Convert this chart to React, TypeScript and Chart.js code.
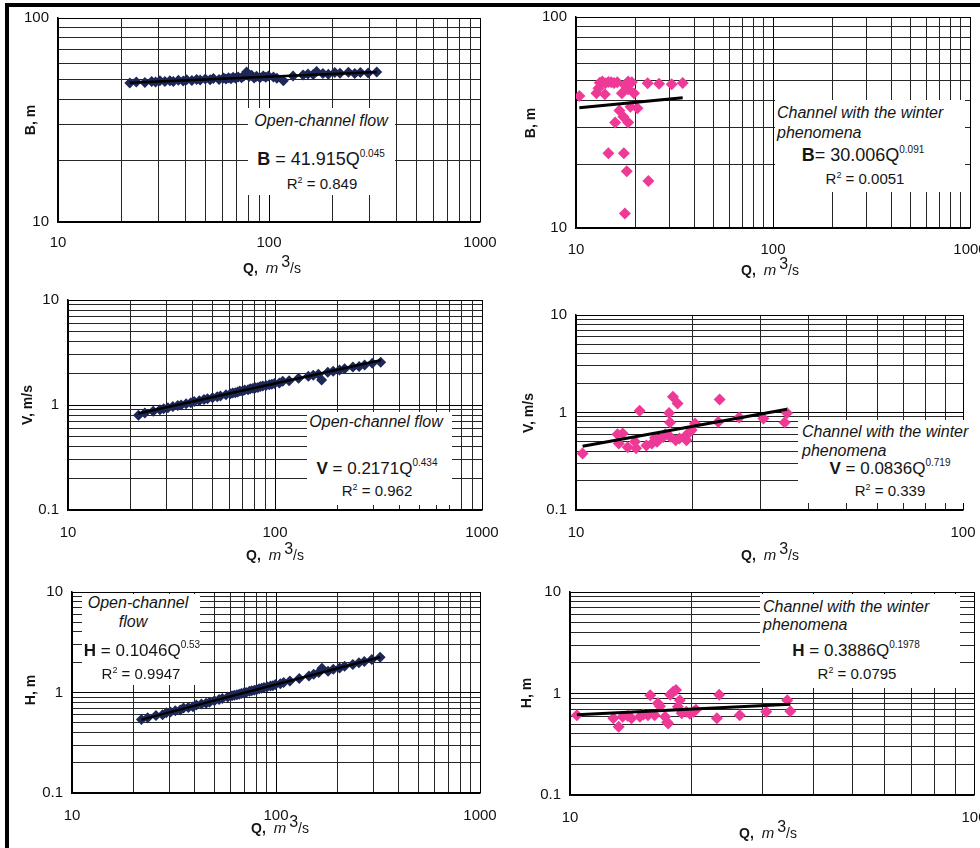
import React, { useEffect, useRef } from 'react';
import { Chart, registerables } from 'chart.js';

Chart.register(...registerables);

const FONT = "'Liberation Sans', Arial, Helvetica, sans-serif";

// ---------- Open-channel flow (left column) ----------
const Q_OPEN = [
  21.9, 23.5, 25.8, 27.8, 29.0, 30.4, 32.1, 33.9, 35.2, 37.2,
  39.2, 40.7, 43.1, 45.4, 47.2, 49.9, 52.6, 54.5, 58.0, 60.9,
  62.5, 64.3, 66.0, 67.6, 69.5, 71.4, 74.1, 76.0, 78.3, 80.5,
  82.7, 85.0, 87.3, 90.5, 93.9, 96.5, 99.4, 105, 109, 117,
  130, 145, 153, 162, 168, 180, 191, 205, 217, 238,
  255, 271, 295, 324,
];
const B_OPEN = [
  48.0, 48.6, 48.3, 48.9, 48.5, 49.2, 48.8, 49.3, 48.9, 49.5,
  49.1, 49.8, 49.4, 50.0, 49.6, 50.2, 49.8, 50.5, 50.0, 50.8,
  50.2, 51.0, 50.4, 51.2, 50.6, 51.4, 50.9, 52.0, 54.4, 51.6,
  52.4, 50.8, 51.8, 51.0, 52.0, 51.2, 51.9, 51.4, 50.6, 49.2,
  51.9, 52.6, 53.2, 52.8, 54.6, 53.4, 53.0, 54.0, 53.6, 54.2,
  53.5, 54.0, 53.8, 54.3,
];
const V_OPEN = [
  0.80, 0.84, 0.87, 0.90, 0.92, 0.94, 0.97, 0.99, 1.00, 1.03,
  1.05, 1.08, 1.10, 1.13, 1.15, 1.17, 1.20, 1.22, 1.25, 1.28,
  1.30, 1.31, 1.33, 1.36, 1.35, 1.39, 1.40, 1.43, 1.44, 1.46,
  1.47, 1.50, 1.52, 1.53, 1.56, 1.58, 1.60, 1.62, 1.68, 1.70,
  1.80, 1.88, 1.92, 1.96, 1.73, 2.05, 2.10, 2.15, 2.22, 2.30,
  2.32, 2.40, 2.50, 2.55,
];
const H_OPEN = [
  0.54, 0.56, 0.59, 0.60, 0.63, 0.64, 0.66, 0.67, 0.70, 0.71,
  0.72, 0.75, 0.77, 0.78, 0.80, 0.83, 0.85, 0.87, 0.90, 0.93,
  0.94, 0.95, 0.96, 0.98, 0.99, 1.00, 1.03, 1.04, 1.05, 1.07,
  1.09, 1.10, 1.12, 1.14, 1.16, 1.17, 1.20, 1.22, 1.26, 1.30,
  1.38, 1.46, 1.52, 1.58, 1.74, 1.63, 1.70, 1.75, 1.82, 1.90,
  1.98, 2.03, 2.13, 2.24,
];

// ---------- Channel with the winter phenomena (right column) ----------
const Q_WINTER_B = [
  10.4, 13.2, 13.6, 14.1, 14.6, 15.1, 15.6, 16.2, 17.7, 18.4, 19.2,
  23.1, 26.4, 30.6, 34.8, 13.0, 12.7, 14.0, 17.1, 18.4, 19.7,
  18.9, 20.5, 16.6, 15.8, 17.4, 18.4, 14.6, 17.5, 18.1, 23.3, 17.7,
];
const B_WINTER = [
  42.2, 48.8, 49.5, 48.5, 49.2, 49.0, 48.6, 49.0, 47.5, 49.5, 49.0,
  48.5, 48.3, 48.0, 48.6, 45.9, 43.5, 43.0, 43.5, 45.4, 43.5,
  37.6, 36.9, 36.0, 31.6, 33.7, 31.6, 22.6, 22.6, 18.6, 16.7, 11.7,
];
const Q_WINTER_V = [
  10.4, 12.8, 12.9, 13.2, 13.6, 14.2, 14.3, 14.6, 15.2, 15.7,
  16.2, 16.8, 17.4, 17.5, 17.8, 18.3, 17.5, 18.1, 18.5, 19.1,
  19.3, 19.7, 20.3, 23.3, 23.5, 26.4, 30.5, 34.6, 35.1, 16.0, 17.0, 19.9,
];
const V_WINTER = [
  0.38, 0.60, 0.48, 0.61, 0.44, 0.50, 0.43, 1.04, 0.46, 0.48,
  0.50, 0.56, 0.99, 0.79, 1.45, 1.24, 0.565, 0.52, 0.54, 0.565,
  0.52, 0.635, 0.77, 0.80, 1.36, 0.89, 0.87, 0.79, 0.99, 0.55, 0.60, 0.66,
];
const Q_WINTER_H = [
  10.4, 12.8, 13.2, 13.5, 14.2, 14.9, 15.6, 15.8, 16.5, 16.2,
  17.2, 17.4, 17.7, 18.0, 18.3, 18.7, 18.5, 18.9, 19.4, 20.2,
  20.5, 23.4, 23.1, 26.3, 30.6, 34.5, 35.1, 17.5, 16.7, 13.9, 15.2, 19.8,
];
const H_WINTER = [
  0.61, 0.57, 0.47, 0.59, 0.57, 0.59, 0.61, 0.96, 0.80, 0.61,
  0.59, 0.52, 0.97, 1.04, 1.08, 0.86, 0.74, 0.64, 0.66, 0.66,
  0.69, 0.97, 0.57, 0.61, 0.66, 0.86, 0.67, 0.505, 0.75, 0.60, 0.62, 0.63,
];

// Power-law trend lines shown on the chart (y = a * Q^b)
const TREND_B_OPEN = { a: 41.915, b: 0.045 };
const TREND_V_OPEN = { a: 0.2171, b: 0.434 };
const TREND_H_OPEN = { a: 0.1046, b: 0.53 };
const TREND_B_WINTER = { a: 30.006, b: 0.091 };
const TREND_V_WINTER = { a: 0.0836, b: 0.719 };
const TREND_H_WINTER = { a: 0.3886, b: 0.1978 };

// Axis decades (labelled ticks) and log minor multipliers
const Q_DECADES_WIDE = [10, 100, 1000];
const Q_DECADES_NARROW = [10, 100];
const B_DECADES = [10, 100];
const VH_DECADES = [0.1, 1, 10];
const MINOR_MULTIPLIERS = [1, 2, 3, 4, 5, 6, 7, 8, 9];

const OPEN_COLOR = '#1d2858';
const WINTER_COLOR = '#ee3a96';

function logTicks(decades: number[]) {
  const out: number[] = [];
  for (let i = 0; i < decades.length - 1; i++) {
    for (const m of MINOR_MULTIPLIERS) out.push(Number((decades[i] * m).toPrecision(6)));
  }
  out.push(decades[decades.length - 1]);
  return out;
}
const isDecade = (decs: number[], v: number) => decs.some((d) => Math.abs(v / d - 1) < 1e-6);

type PanelProps = {
  plot: { l: number; t: number; r: number; b: number };
  canvasRight: number;
  xDecades: number[];
  yDecades: number[];
  q: number[];
  y: number[];
  trend: { a: number; b: number };
  color: string;
  radius: number;
  lineWidth: number;
  xPad: number;
};

function Panel(p: PanelProps) {
  const ref = useRef<HTMLCanvasElement | null>(null);
  const YW = 52;
  const PT = 12;
  const XH = 34;
  const left = p.plot.l - YW;
  const top = p.plot.t - PT;
  const width = p.canvasRight - left;
  const height = p.plot.b - top + XH;
  const PR = p.canvasRight - p.plot.r;

  useEffect(() => {
    const xt = logTicks(p.xDecades);
    const yt = logTicks(p.yDecades);
    const qmin = Math.min(...p.q);
    const qmax = Math.max(...p.q);
    const tickFont = { family: FONT, size: 15 };
    const gridColor = (decs: number[]) => (ctx: any) =>
      ctx.tick && isDecade(decs, ctx.tick.value) ? '#000' : '#262626';
    const chart = new Chart(ref.current as HTMLCanvasElement, {
      type: 'scatter',
      data: {
        datasets: [
          {
            data: [
              { x: qmin, y: p.trend.a * Math.pow(qmin, p.trend.b) },
              { x: qmax, y: p.trend.a * Math.pow(qmax, p.trend.b) },
            ],
            showLine: true,
            borderColor: '#000',
            borderWidth: p.lineWidth,
            pointRadius: 0,
            fill: false,
          } as any,
          {
            data: p.q.map((x, i) => ({ x, y: p.y[i] })),
            pointStyle: 'rectRot',
            pointRadius: p.radius,
            backgroundColor: p.color,
            borderColor: p.color,
            borderWidth: 0,
          },
        ],
      },
      options: {
        responsive: false,
        animation: false,
        events: [],
        layout: { padding: { left: 0, top: PT, right: PR, bottom: 0 } },
        plugins: { legend: { display: false }, tooltip: { enabled: false } },
        scales: {
          x: {
            type: 'logarithmic',
            min: xt[0],
            max: xt[xt.length - 1],
            afterBuildTicks: (s: any) => {
              s.ticks = xt.map((v) => ({ value: v }));
            },
            afterFit: (s: any) => {
              s.height = XH;
              s.paddingLeft = 0;
              s.paddingRight = 0;
            },
            ticks: {
              autoSkip: false,
              maxRotation: 0,
              minRotation: 0,
              padding: p.xPad,
              font: tickFont,
              color: '#111',
              callback: (v: any) => (isDecade(p.xDecades, Number(v)) ? String(v) : ''),
            },
            grid: { color: gridColor(p.xDecades), lineWidth: 1, drawTicks: false },
            border: { color: '#000', width: 1.5 },
          },
          y: {
            type: 'logarithmic',
            min: yt[0],
            max: yt[yt.length - 1],
            afterBuildTicks: (s: any) => {
              s.ticks = yt.map((v) => ({ value: v }));
            },
            afterFit: (s: any) => {
              s.width = YW;
              s.paddingTop = 0;
              s.paddingBottom = 0;
            },
            ticks: {
              autoSkip: false,
              padding: 9,
              font: tickFont,
              color: '#111',
              callback: (v: any) => (isDecade(p.yDecades, Number(v)) ? String(v) : ''),
            },
            grid: { color: gridColor(p.yDecades), lineWidth: 1, drawTicks: false },
            border: { color: '#000', width: 1.5 },
          },
        },
      } as any,
    });
    return () => chart.destroy();
  }, []);

  return (
    <canvas
      ref={ref}
      width={width}
      height={height}
      style={{ position: 'absolute', left, top, width, height }}
    />
  );
}

function Txt(props: {
  x: number;
  y: number;
  align?: 'center' | 'left';
  size?: number;
  italic?: boolean;
  children: any;
}) {
  const { x, y, align = 'center', size = 16, italic = false, children } = props;
  return (
    <div
      style={{
        position: 'absolute',
        left: x,
        top: y,
        transform: align === 'center' ? 'translate(-50%, -50%)' : 'translate(0, -50%)',
        fontFamily: FONT,
        fontSize: size,
        fontStyle: italic ? 'italic' : 'normal',
        whiteSpace: 'nowrap',
        lineHeight: 1,
        color: '#151515',
      }}
    >
      {children}
    </div>
  );
}

const Sup = ({ children, size = 10, top = -8 }: { children: any; size?: number; top?: number }) => (
  <span style={{ fontSize: size, position: 'relative', top }}>{children}</span>
);

function Box({ l, t, r, b }: { l: number; t: number; r: number; b: number }) {
  return <div style={{ position: 'absolute', left: l, top: t, width: r - l, height: b - t, background: '#fff' }} />;
}

function YTitle({ x, y, text }: { x: number; y: number; text: string }) {
  return (
    <div
      style={{
        position: 'absolute',
        left: x,
        top: y,
        transform: 'translate(-50%, -50%) rotate(-90deg)',
        fontFamily: FONT,
        fontSize: 14,
        fontWeight: 'bold',
        whiteSpace: 'nowrap',
        color: '#151515',
      }}
    >
      {text}
    </div>
  );
}

function XTitle({ x, y }: { x: number; y: number }) {
  return (
    <div
      style={{
        position: 'absolute',
        left: x,
        top: y,
        transform: 'translate(-50%, -50%)',
        fontFamily: FONT,
        fontSize: 14,
        whiteSpace: 'nowrap',
        color: '#151515',
      }}
    >
      <b>Q,</b>&nbsp;&nbsp;<i style={{ fontSize: 15 }}>m</i>
      <span style={{ fontSize: 16, position: 'relative', top: -6, marginLeft: 3 }}>3</span>/s
    </div>
  );
}

export default function App() {
  return (
    <div
      style={{
        position: 'absolute',
        left: 0,
        top: 0,
        width: 980,
        height: 848,
        overflow: 'hidden',
        background: '#fff',
      }}
    >
      {/* frame */}
      <div style={{ position: 'absolute', left: 5, top: 3, width: 975, height: 4, background: '#000' }} />
      <div style={{ position: 'absolute', left: 5, top: 3, width: 4, height: 845, background: '#000' }} />

      {/* charts */}
      <Panel plot={{ l: 58, t: 18, r: 480, b: 222 }} canvasRight={500} xDecades={Q_DECADES_WIDE} yDecades={B_DECADES}
        q={Q_OPEN} y={B_OPEN} trend={TREND_B_OPEN} color={OPEN_COLOR} radius={5.5} lineWidth={2.5} xPad={12} />
      <Panel plot={{ l: 576, t: 17, r: 970, b: 228 }} canvasRight={980} xDecades={Q_DECADES_WIDE} yDecades={B_DECADES}
        q={Q_WINTER_B} y={B_WINTER} trend={TREND_B_WINTER} color={WINTER_COLOR} radius={6} lineWidth={3} xPad={13} />
      <Panel plot={{ l: 68, t: 300, r: 482, b: 510 }} canvasRight={502} xDecades={Q_DECADES_WIDE} yDecades={VH_DECADES}
        q={Q_OPEN} y={V_OPEN} trend={TREND_V_OPEN} color={OPEN_COLOR} radius={5.5} lineWidth={2.5} xPad={14} />
      <Panel plot={{ l: 576, t: 315, r: 963, b: 510 }} canvasRight={980} xDecades={Q_DECADES_NARROW} yDecades={VH_DECADES}
        q={Q_WINTER_V} y={V_WINTER} trend={TREND_V_WINTER} color={WINTER_COLOR} radius={6} lineWidth={3} xPad={14} />
      <Panel plot={{ l: 72, t: 592, r: 480, b: 793 }} canvasRight={500} xDecades={Q_DECADES_WIDE} yDecades={VH_DECADES}
        q={Q_OPEN} y={H_OPEN} trend={TREND_H_OPEN} color={OPEN_COLOR} radius={5.5} lineWidth={2.5} xPad={14} />
      <Panel plot={{ l: 570, t: 592, r: 975, b: 795 }} canvasRight={980} xDecades={Q_DECADES_NARROW} yDecades={VH_DECADES}
        q={Q_WINTER_H} y={H_WINTER} trend={TREND_H_WINTER} color={WINTER_COLOR} radius={6} lineWidth={3} xPad={14} />

      {/* axis titles */}
      <YTitle x={30} y={120} text="B, m" />
      <YTitle x={530} y={123} text="B, m" />
      <YTitle x={27} y={405} text="V, m/s" />
      <YTitle x={528} y={413} text="V, m/s" />
      <YTitle x={30} y={690} text="H, m" />
      <YTitle x={526} y={693} text="H, m" />
      <XTitle x={272} y={268} />
      <XTitle x={770} y={270} />
      <XTitle x={275} y={555} />
      <XTitle x={770} y={555} />
      <XTitle x={280} y={828} />
      <XTitle x={768} y={833} />

      {/* annotation boxes */}
      <Box l={248} t={108} r={395} b={195} />
      <Txt x={321} y={121} italic>Open-channel flow</Txt>
      <Txt x={321} y={159} size={18}><b>B</b> = 41.915Q<Sup>0.045</Sup></Txt>
      <Txt x={322} y={183} size={15}>R<Sup size={9} top={-6}>2</Sup> = 0.849</Txt>

      <Box l={775} t={100} r={965} b={192} />
      <Txt x={777} y={113} align="left" italic>Channel with the winter</Txt>
      <Txt x={777} y={133} align="left" italic>phenomena</Txt>
      <Txt x={863} y={155} size={18}><b>B</b>= 30.006Q<Sup>0.091</Sup></Txt>
      <Txt x={865} y={178} size={15}>R<Sup size={9} top={-6}>2</Sup> = 0.0051</Txt>

      <Box l={307} t={412} r={452} b={505} />
      <Txt x={376} y={422} italic>Open-channel flow</Txt>
      <Txt x={377} y={468} size={17}><b>V</b> = 0.2171Q<Sup>0.434</Sup></Txt>
      <Txt x={377} y={490} size={15}>R<Sup size={9} top={-6}>2</Sup> = 0.962</Txt>

      <Box l={798} t={420} r={975} b={503} />
      <Txt x={802} y={432} align="left" italic>Channel with the winter</Txt>
      <Txt x={802} y={451} align="left" italic>phenomena</Txt>
      <Txt x={890} y={468} size={17}><b>V</b> = 0.0836Q<Sup>0.719</Sup></Txt>
      <Txt x={890} y={490} size={15}>R<Sup size={9} top={-6}>2</Sup> = 0.339</Txt>

      <Box l={82} t={594} r={200} b={685} />
      <Txt x={138} y={603} italic>Open-channel</Txt>
      <Txt x={133} y={622} italic>flow</Txt>
      <Txt x={142} y={650} size={17}><b>H</b> = 0.1046Q<Sup>0.53</Sup></Txt>
      <Txt x={141} y={673} size={15}>R<Sup size={9} top={-6}>2</Sup> = 0.9947</Txt>

      <Box l={760} t={594} r={960} b={688} />
      <Txt x={763} y={607} align="left" italic>Channel with the winter</Txt>
      <Txt x={763} y={625} align="left" italic>phenomena</Txt>
      <Txt x={856} y={650} size={17}><b>H</b> = 0.3886Q<Sup>0.1978</Sup></Txt>
      <Txt x={857} y={673} size={15}>R<Sup size={9} top={-6}>2</Sup> = 0.0795</Txt>
    </div>
  );
}
